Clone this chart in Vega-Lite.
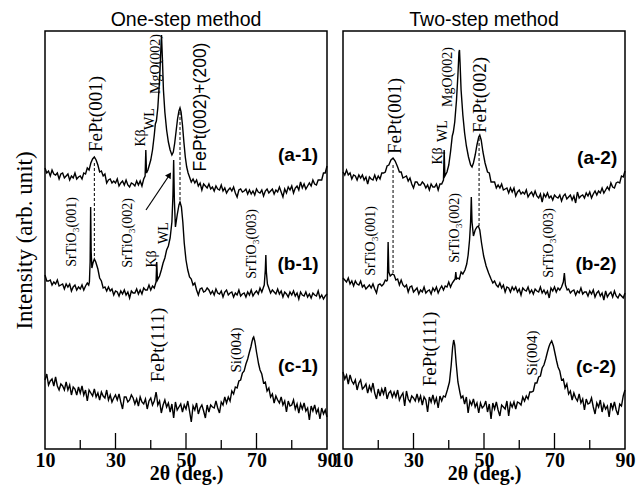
{
"$schema": "https://vega.github.io/schema/vega-lite/v6.json",
"background": "white",
"padding": {"left": 12, "top": 8, "right": 5, "bottom": 2},
"bounds": "flush",
"spacing": 16,
"config": {
  "view": {"stroke": "black", "strokeWidth": 1.5},
  "axis": {"grid": false},
  "title": {"font": "Liberation Sans", "fontSize": 19.5, "fontWeight": "normal", "color": "black", "offset": 1}
},
"datasets": {
"a1": [{"x":10,"y":281},{"x":10.5,"y":276},{"x":11,"y":278},{"x":11.5,"y":273},{"x":12,"y":279},{"x":12.5,"y":275},{"x":13,"y":274},{"x":13.5,"y":276},{"x":14,"y":270},{"x":14.5,"y":275},{"x":15,"y":276},{"x":15.5,"y":271},{"x":16,"y":273},{"x":16.5,"y":275},{"x":17,"y":269},{"x":17.5,"y":273},{"x":18,"y":271},{"x":18.5,"y":276},{"x":19,"y":270},{"x":19.5,"y":272},{"x":20,"y":273},{"x":20.5,"y":270},{"x":21,"y":276},{"x":21.5,"y":275},{"x":22,"y":281},{"x":22.5,"y":279},{"x":23,"y":286},{"x":23.5,"y":290},{"x":24,"y":292},{"x":24.5,"y":289},{"x":25,"y":284},{"x":25.5,"y":277},{"x":26,"y":278},{"x":26.5,"y":273},{"x":27,"y":275},{"x":27.5,"y":266},{"x":28,"y":269},{"x":28.5,"y":270},{"x":29,"y":266},{"x":29.5,"y":268},{"x":30,"y":266},{"x":30.5,"y":270},{"x":31,"y":263},{"x":31.5,"y":266},{"x":32,"y":268},{"x":32.5,"y":264},{"x":33,"y":269},{"x":33.5,"y":264},{"x":34,"y":262},{"x":34.5,"y":266},{"x":35,"y":265},{"x":35.5,"y":263},{"x":36,"y":268},{"x":36.5,"y":264},{"x":37,"y":268},{"x":37.5,"y":263},{"x":38,"y":270},{"x":38.4,"y":273},{"x":38.6,"y":299},{"x":38.8,"y":276},{"x":39.2,"y":279},{"x":39.6,"y":284},{"x":40,"y":289},{"x":40.5,"y":299},{"x":41,"y":314},{"x":41.3,"y":325},{"x":41.6,"y":328},{"x":42,"y":341},{"x":42.5,"y":369},{"x":42.8,"y":394},{"x":43.05,"y":414},{"x":43.3,"y":391},{"x":43.6,"y":359},{"x":44,"y":337},{"x":44.5,"y":319},{"x":45,"y":307},{"x":45.5,"y":299},{"x":46,"y":294},{"x":46.4,"y":297},{"x":46.8,"y":306},{"x":47.2,"y":318},{"x":47.6,"y":330},{"x":48,"y":338},{"x":48.3,"y":341},{"x":48.6,"y":337},{"x":49,"y":324},{"x":49.4,"y":307},{"x":49.8,"y":292},{"x":50.2,"y":282},{"x":50.6,"y":276},{"x":51,"y":272},{"x":51.5,"y":267},{"x":52,"y":270},{"x":52.5,"y":266},{"x":53,"y":269},{"x":53.5,"y":263},{"x":54,"y":266},{"x":54.5,"y":259},{"x":55,"y":265},{"x":55.5,"y":263},{"x":56,"y":261},{"x":56.5,"y":265},{"x":57,"y":260},{"x":57.5,"y":262},{"x":58,"y":258},{"x":58.5,"y":263},{"x":59,"y":260},{"x":59.5,"y":259},{"x":60,"y":264},{"x":60.5,"y":258},{"x":61,"y":261},{"x":61.5,"y":256},{"x":62,"y":259},{"x":62.5,"y":261},{"x":63,"y":258},{"x":63.5,"y":262},{"x":64,"y":256},{"x":64.5,"y":252},{"x":65,"y":259},{"x":65.5,"y":260},{"x":66,"y":257},{"x":66.5,"y":258},{"x":67,"y":260},{"x":67.5,"y":255},{"x":68,"y":259},{"x":68.5,"y":255},{"x":69,"y":258},{"x":69.5,"y":254},{"x":70,"y":260},{"x":70.5,"y":257},{"x":71,"y":256},{"x":71.5,"y":259},{"x":72,"y":253},{"x":72.5,"y":258},{"x":73,"y":260},{"x":73.5,"y":256},{"x":74,"y":258},{"x":74.5,"y":260},{"x":75,"y":255},{"x":75.5,"y":259},{"x":76,"y":257},{"x":76.5,"y":262},{"x":77,"y":257},{"x":77.5,"y":252},{"x":78,"y":260},{"x":78.5,"y":256},{"x":79,"y":262},{"x":79.5,"y":259},{"x":80,"y":263},{"x":80.5,"y":256},{"x":81,"y":261},{"x":81.5,"y":263},{"x":82,"y":259},{"x":82.5,"y":267},{"x":83,"y":261},{"x":83.5,"y":265},{"x":84,"y":260},{"x":84.5,"y":263},{"x":85,"y":266},{"x":85.5,"y":263},{"x":86,"y":269},{"x":86.5,"y":265},{"x":87,"y":264},{"x":87.5,"y":269},{"x":88,"y":269},{"x":88.5,"y":269},{"x":89,"y":276},{"x":89.5,"y":276},{"x":90,"y":283}],
"b1": [{"x":10,"y":174},{"x":10.5,"y":168},{"x":11,"y":168},{"x":11.5,"y":169},{"x":12,"y":164},{"x":12.5,"y":167},{"x":13,"y":165},{"x":13.5,"y":169},{"x":14,"y":163},{"x":14.5,"y":164},{"x":15,"y":165},{"x":15.5,"y":160},{"x":16,"y":165},{"x":16.5,"y":162},{"x":17,"y":165},{"x":17.5,"y":158},{"x":18,"y":162},{"x":18.5,"y":164},{"x":19,"y":159},{"x":19.5,"y":162},{"x":20,"y":160},{"x":20.5,"y":164},{"x":21,"y":159},{"x":21.5,"y":163},{"x":22,"y":166},{"x":22.4,"y":164},{"x":22.6,"y":167},{"x":22.8,"y":187},{"x":22.95,"y":242},{"x":23.1,"y":197},{"x":23.3,"y":181},{"x":23.6,"y":186},{"x":24,"y":190},{"x":24.4,"y":187},{"x":25,"y":180},{"x":25.5,"y":171},{"x":26,"y":168},{"x":26.5,"y":161},{"x":27,"y":162},{"x":27.5,"y":158},{"x":28,"y":162},{"x":28.5,"y":158},{"x":29,"y":160},{"x":29.5,"y":154},{"x":30,"y":158},{"x":30.5,"y":157},{"x":31,"y":153},{"x":31.5,"y":158},{"x":32,"y":155},{"x":32.5,"y":159},{"x":33,"y":154},{"x":33.5,"y":157},{"x":34,"y":151},{"x":34.5,"y":158},{"x":35,"y":156},{"x":35.5,"y":156},{"x":36,"y":160},{"x":36.5,"y":155},{"x":37,"y":159},{"x":37.5,"y":155},{"x":38,"y":161},{"x":38.5,"y":159},{"x":39,"y":159},{"x":39.5,"y":164},{"x":40,"y":159},{"x":40.5,"y":163},{"x":41,"y":161},{"x":41.5,"y":167},{"x":41.7,"y":187},{"x":41.9,"y":169},{"x":42.5,"y":173},{"x":43,"y":179},{"x":43.5,"y":186},{"x":44,"y":191},{"x":44.5,"y":199},{"x":45,"y":203},{"x":45.5,"y":211},{"x":46,"y":227},{"x":46.3,"y":254},{"x":46.5,"y":289},{"x":46.7,"y":249},{"x":47,"y":222},{"x":47.5,"y":234},{"x":48,"y":244},{"x":48.3,"y":247},{"x":48.7,"y":242},{"x":49.1,"y":227},{"x":49.5,"y":206},{"x":50,"y":189},{"x":50.5,"y":179},{"x":51,"y":172},{"x":51.5,"y":170},{"x":52,"y":164},{"x":52.5,"y":166},{"x":53,"y":159},{"x":53.5,"y":154},{"x":54,"y":160},{"x":54.5,"y":161},{"x":55,"y":157},{"x":55.5,"y":158},{"x":56,"y":161},{"x":56.5,"y":159},{"x":57,"y":155},{"x":57.5,"y":158},{"x":58,"y":154},{"x":58.5,"y":160},{"x":59,"y":156},{"x":59.5,"y":155},{"x":60,"y":158},{"x":60.5,"y":152},{"x":61,"y":157},{"x":61.5,"y":159},{"x":62,"y":154},{"x":62.5,"y":156},{"x":63,"y":157},{"x":63.5,"y":152},{"x":64,"y":156},{"x":64.5,"y":154},{"x":65,"y":159},{"x":65.5,"y":153},{"x":66,"y":155},{"x":66.5,"y":156},{"x":67,"y":152},{"x":67.5,"y":157},{"x":68,"y":154},{"x":68.5,"y":159},{"x":69,"y":153},{"x":69.5,"y":156},{"x":70,"y":158},{"x":70.5,"y":155},{"x":71,"y":161},{"x":71.5,"y":157},{"x":72,"y":162},{"x":72.2,"y":164},{"x":72.5,"y":179},{"x":72.65,"y":194},{"x":72.8,"y":177},{"x":73.1,"y":165},{"x":73.6,"y":160},{"x":74,"y":156},{"x":74.5,"y":159},{"x":75,"y":157},{"x":75.5,"y":155},{"x":76,"y":160},{"x":76.5,"y":155},{"x":77,"y":158},{"x":77.5,"y":152},{"x":78,"y":157},{"x":78.5,"y":155},{"x":79,"y":152},{"x":79.5,"y":157},{"x":80,"y":154},{"x":80.5,"y":158},{"x":81,"y":153},{"x":81.5,"y":156},{"x":82,"y":150},{"x":82.5,"y":157},{"x":83,"y":154},{"x":83.5,"y":153},{"x":84,"y":157},{"x":84.5,"y":152},{"x":85,"y":155},{"x":85.5,"y":151},{"x":86,"y":156},{"x":86.5,"y":154},{"x":87,"y":153},{"x":87.5,"y":158},{"x":88,"y":151},{"x":88.5,"y":154},{"x":89,"y":150},{"x":89.5,"y":153},{"x":90,"y":155}],
"c1": [{"x":10,"y":69},{"x":10.5,"y":75},{"x":11,"y":64},{"x":11.5,"y":68},{"x":12,"y":70},{"x":12.5,"y":63},{"x":13,"y":72},{"x":13.5,"y":63},{"x":14,"y":59},{"x":14.5,"y":65},{"x":15,"y":63},{"x":15.5,"y":59},{"x":16,"y":67},{"x":16.5,"y":59},{"x":17,"y":64},{"x":17.5,"y":54},{"x":18,"y":62},{"x":18.5,"y":60},{"x":19,"y":54},{"x":19.5,"y":62},{"x":20,"y":56},{"x":20.5,"y":63},{"x":21,"y":54},{"x":21.5,"y":59},{"x":22,"y":48},{"x":22.5,"y":59},{"x":23,"y":56},{"x":23.5,"y":53},{"x":24,"y":60},{"x":24.5,"y":52},{"x":25,"y":56},{"x":25.5,"y":49},{"x":26,"y":57},{"x":26.5,"y":53},{"x":27,"y":51},{"x":27.5,"y":59},{"x":28,"y":49},{"x":28.5,"y":54},{"x":29,"y":47},{"x":29.5,"y":51},{"x":30,"y":54},{"x":30.5,"y":49},{"x":31,"y":55},{"x":31.5,"y":47},{"x":32,"y":40},{"x":32.5,"y":52},{"x":33,"y":52},{"x":33.5,"y":47},{"x":34,"y":49},{"x":34.5,"y":54},{"x":35,"y":51},{"x":35.5,"y":45},{"x":36,"y":50},{"x":36.5,"y":43},{"x":37,"y":52},{"x":37.5,"y":47},{"x":38,"y":45},{"x":38.5,"y":50},{"x":39,"y":40},{"x":39.5,"y":48},{"x":40,"y":51},{"x":40.5,"y":44},{"x":41,"y":48},{"x":41.3,"y":53},{"x":41.5,"y":57},{"x":41.7,"y":53},{"x":42,"y":44},{"x":42.5,"y":48},{"x":43,"y":36},{"x":43.5,"y":44},{"x":44,"y":49},{"x":44.5,"y":42},{"x":45,"y":46},{"x":45.5,"y":37},{"x":46,"y":45},{"x":46.5,"y":31},{"x":47,"y":47},{"x":47.5,"y":39},{"x":48,"y":42},{"x":48.5,"y":45},{"x":49,"y":37},{"x":49.5,"y":44},{"x":50,"y":40},{"x":50.5,"y":48},{"x":51,"y":38},{"x":51.5,"y":27},{"x":52,"y":43},{"x":52.5,"y":39},{"x":53,"y":46},{"x":53.5,"y":35},{"x":54,"y":41},{"x":54.5,"y":44},{"x":55,"y":38},{"x":55.5,"y":31},{"x":56,"y":44},{"x":56.5,"y":37},{"x":57,"y":44},{"x":57.5,"y":42},{"x":58,"y":41},{"x":58.5,"y":48},{"x":59,"y":41},{"x":59.5,"y":36},{"x":60,"y":47},{"x":60.5,"y":44},{"x":61,"y":52},{"x":61.5,"y":46},{"x":62,"y":52},{"x":62.5,"y":48},{"x":63,"y":58},{"x":63.5,"y":55},{"x":64,"y":62},{"x":64.5,"y":61},{"x":65,"y":68},{"x":65.5,"y":69},{"x":66,"y":76},{"x":66.5,"y":78},{"x":67,"y":85},{"x":67.5,"y":90},{"x":68,"y":97},{"x":68.4,"y":102},{"x":68.7,"y":107},{"x":69,"y":111},{"x":69.2,"y":112},{"x":69.5,"y":108},{"x":69.7,"y":104},{"x":70,"y":97},{"x":70.3,"y":91},{"x":70.6,"y":85},{"x":71,"y":79},{"x":71.5,"y":75},{"x":72,"y":66},{"x":72.5,"y":67},{"x":73,"y":58},{"x":73.5,"y":61},{"x":74,"y":52},{"x":74.5,"y":55},{"x":75,"y":46},{"x":75.5,"y":53},{"x":76,"y":49},{"x":76.5,"y":46},{"x":77,"y":52},{"x":77.5,"y":44},{"x":78,"y":48},{"x":78.5,"y":37},{"x":79,"y":48},{"x":79.5,"y":43},{"x":80,"y":44},{"x":80.5,"y":49},{"x":81,"y":40},{"x":81.5,"y":45},{"x":82,"y":36},{"x":82.5,"y":45},{"x":83,"y":40},{"x":83.5,"y":46},{"x":84,"y":38},{"x":84.5,"y":41},{"x":85,"y":29},{"x":85.5,"y":43},{"x":86,"y":38},{"x":86.5,"y":44},{"x":87,"y":36},{"x":87.5,"y":40},{"x":88,"y":30},{"x":88.5,"y":41},{"x":89,"y":35},{"x":89.5,"y":39},{"x":90,"y":32}],
"a2": [{"x":10,"y":277},{"x":10.5,"y":274},{"x":11,"y":279},{"x":11.5,"y":274},{"x":12,"y":276},{"x":12.5,"y":270},{"x":13,"y":274},{"x":13.5,"y":273},{"x":14,"y":269},{"x":14.5,"y":274},{"x":15,"y":271},{"x":15.5,"y":274},{"x":16,"y":269},{"x":16.5,"y":272},{"x":17,"y":265},{"x":17.5,"y":272},{"x":18,"y":270},{"x":18.5,"y":269},{"x":19,"y":274},{"x":19.5,"y":269},{"x":20,"y":273},{"x":20.5,"y":270},{"x":21,"y":276},{"x":21.5,"y":276},{"x":22,"y":277},{"x":22.5,"y":283},{"x":23,"y":284},{"x":23.6,"y":289},{"x":24.2,"y":291},{"x":24.8,"y":288},{"x":25.5,"y":282},{"x":26,"y":277},{"x":26.5,"y":277},{"x":27,"y":271},{"x":27.5,"y":272},{"x":28,"y":273},{"x":28.5,"y":268},{"x":29,"y":271},{"x":29.5,"y":265},{"x":30,"y":261},{"x":30.5,"y":267},{"x":31,"y":267},{"x":31.5,"y":264},{"x":32,"y":264},{"x":32.5,"y":267},{"x":33,"y":265},{"x":33.5,"y":261},{"x":34,"y":264},{"x":34.5,"y":259},{"x":35,"y":265},{"x":35.5,"y":262},{"x":36,"y":262},{"x":36.5,"y":265},{"x":37,"y":259},{"x":37.5,"y":265},{"x":38,"y":265},{"x":38.5,"y":269},{"x":38.7,"y":299},{"x":38.9,"y":273},{"x":39.5,"y":277},{"x":40,"y":284},{"x":40.5,"y":297},{"x":41,"y":313},{"x":41.3,"y":317},{"x":41.7,"y":327},{"x":42.2,"y":349},{"x":42.6,"y":374},{"x":42.9,"y":397},{"x":43.05,"y":399},{"x":43.2,"y":387},{"x":43.5,"y":359},{"x":44,"y":334},{"x":44.5,"y":316},{"x":45,"y":303},{"x":45.6,"y":292},{"x":46.2,"y":284},{"x":46.6,"y":282},{"x":47,"y":286},{"x":47.5,"y":294},{"x":48,"y":304},{"x":48.5,"y":312},{"x":48.8,"y":314},{"x":49.2,"y":309},{"x":49.7,"y":297},{"x":50.3,"y":286},{"x":51,"y":277},{"x":51.5,"y":276},{"x":52,"y":267},{"x":52.5,"y":267},{"x":53,"y":267},{"x":53.5,"y":261},{"x":54,"y":264},{"x":54.5,"y":261},{"x":55,"y":265},{"x":55.5,"y":259},{"x":56,"y":260},{"x":56.5,"y":261},{"x":57,"y":256},{"x":57.5,"y":261},{"x":58,"y":257},{"x":58.5,"y":261},{"x":59,"y":253},{"x":59.5,"y":257},{"x":60,"y":259},{"x":60.5,"y":255},{"x":61,"y":257},{"x":61.5,"y":255},{"x":62,"y":259},{"x":62.5,"y":252},{"x":63,"y":255},{"x":63.5,"y":257},{"x":64,"y":253},{"x":64.5,"y":258},{"x":65,"y":253},{"x":65.5,"y":251},{"x":66,"y":255},{"x":66.5,"y":247},{"x":67,"y":255},{"x":67.5,"y":252},{"x":68,"y":256},{"x":68.5,"y":251},{"x":69,"y":253},{"x":69.5,"y":249},{"x":70,"y":254},{"x":70.5,"y":252},{"x":71,"y":251},{"x":71.5,"y":254},{"x":72,"y":248},{"x":72.5,"y":253},{"x":73,"y":255},{"x":73.5,"y":250},{"x":74,"y":252},{"x":74.5,"y":254},{"x":75,"y":249},{"x":75.5,"y":253},{"x":76,"y":246},{"x":76.5,"y":257},{"x":77,"y":251},{"x":77.5,"y":253},{"x":78,"y":254},{"x":78.5,"y":251},{"x":79,"y":256},{"x":79.5,"y":253},{"x":80,"y":257},{"x":80.5,"y":251},{"x":81,"y":255},{"x":81.5,"y":258},{"x":82,"y":254},{"x":82.5,"y":258},{"x":83,"y":256},{"x":83.5,"y":261},{"x":84,"y":256},{"x":84.5,"y":259},{"x":85,"y":262},{"x":85.5,"y":259},{"x":86,"y":266},{"x":86.5,"y":262},{"x":87,"y":261},{"x":87.5,"y":266},{"x":88,"y":267},{"x":88.5,"y":266},{"x":89,"y":273},{"x":89.5,"y":272},{"x":90,"y":278}],
"b2": [{"x":10,"y":171},{"x":10.5,"y":169},{"x":11,"y":167},{"x":11.5,"y":171},{"x":12,"y":165},{"x":12.5,"y":168},{"x":13,"y":163},{"x":13.5,"y":168},{"x":14,"y":165},{"x":14.5,"y":164},{"x":15,"y":168},{"x":15.5,"y":162},{"x":16,"y":164},{"x":16.5,"y":160},{"x":17,"y":162},{"x":17.5,"y":164},{"x":18,"y":161},{"x":18.5,"y":165},{"x":19,"y":160},{"x":19.5,"y":156},{"x":20,"y":164},{"x":20.5,"y":165},{"x":21,"y":163},{"x":21.5,"y":165},{"x":22,"y":169},{"x":22.4,"y":168},{"x":22.6,"y":169},{"x":22.8,"y":207},{"x":23,"y":177},{"x":23.4,"y":173},{"x":24,"y":175},{"x":24.5,"y":174},{"x":25,"y":169},{"x":25.5,"y":170},{"x":26,"y":164},{"x":26.5,"y":169},{"x":27,"y":164},{"x":27.5,"y":162},{"x":28,"y":164},{"x":28.5,"y":157},{"x":29,"y":162},{"x":29.5,"y":163},{"x":30,"y":157},{"x":30.5,"y":159},{"x":31,"y":161},{"x":31.5,"y":155},{"x":32,"y":159},{"x":32.5,"y":157},{"x":33,"y":162},{"x":33.5,"y":156},{"x":34,"y":158},{"x":34.5,"y":159},{"x":35,"y":155},{"x":35.5,"y":161},{"x":36,"y":158},{"x":36.5,"y":162},{"x":37,"y":156},{"x":37.5,"y":160},{"x":38,"y":163},{"x":38.5,"y":159},{"x":39,"y":163},{"x":39.5,"y":162},{"x":40,"y":167},{"x":40.5,"y":162},{"x":41,"y":166},{"x":41.4,"y":168},{"x":41.8,"y":170},{"x":42,"y":177},{"x":42.2,"y":170},{"x":42.6,"y":171},{"x":43,"y":170},{"x":43.5,"y":177},{"x":44,"y":175},{"x":44.6,"y":179},{"x":45.1,"y":185},{"x":45.5,"y":194},{"x":45.9,"y":209},{"x":46.2,"y":227},{"x":46.4,"y":252},{"x":46.6,"y":227},{"x":47,"y":213},{"x":47.5,"y":219},{"x":48,"y":222},{"x":48.4,"y":223},{"x":48.8,"y":219},{"x":49.3,"y":206},{"x":49.9,"y":193},{"x":50.6,"y":183},{"x":51.3,"y":176},{"x":52,"y":170},{"x":52.5,"y":166},{"x":53,"y":168},{"x":53.5,"y":164},{"x":54,"y":162},{"x":54.5,"y":166},{"x":55,"y":161},{"x":55.5,"y":164},{"x":56,"y":157},{"x":56.5,"y":162},{"x":57,"y":161},{"x":57.5,"y":157},{"x":58,"y":162},{"x":58.5,"y":159},{"x":59,"y":162},{"x":59.5,"y":157},{"x":60,"y":160},{"x":60.5,"y":154},{"x":61,"y":161},{"x":61.5,"y":159},{"x":62,"y":158},{"x":62.5,"y":162},{"x":63,"y":156},{"x":63.5,"y":159},{"x":64,"y":155},{"x":64.5,"y":160},{"x":65,"y":158},{"x":65.5,"y":157},{"x":66,"y":162},{"x":66.5,"y":156},{"x":67,"y":159},{"x":67.5,"y":155},{"x":68,"y":158},{"x":68.5,"y":151},{"x":69,"y":161},{"x":69.5,"y":158},{"x":70,"y":162},{"x":70.5,"y":157},{"x":71,"y":161},{"x":71.5,"y":159},{"x":72,"y":162},{"x":72.5,"y":167},{"x":72.8,"y":176},{"x":73.1,"y":164},{"x":73.6,"y":159},{"x":74,"y":160},{"x":74.5,"y":156},{"x":75,"y":158},{"x":75.5,"y":159},{"x":76,"y":154},{"x":76.5,"y":158},{"x":77,"y":156},{"x":77.5,"y":161},{"x":78,"y":155},{"x":78.5,"y":157},{"x":79,"y":157},{"x":79.5,"y":153},{"x":80,"y":158},{"x":80.5,"y":155},{"x":81,"y":159},{"x":81.5,"y":152},{"x":82,"y":156},{"x":82.5,"y":158},{"x":83,"y":153},{"x":83.5,"y":156},{"x":84,"y":149},{"x":84.5,"y":158},{"x":85,"y":152},{"x":85.5,"y":155},{"x":86,"y":157},{"x":86.5,"y":152},{"x":87,"y":158},{"x":87.5,"y":153},{"x":88,"y":151},{"x":88.5,"y":155},{"x":89,"y":153},{"x":89.5,"y":151},{"x":90,"y":156}],
"c2": [{"x":10,"y":77},{"x":10.5,"y":70},{"x":11,"y":74},{"x":11.5,"y":65},{"x":12,"y":74},{"x":12.5,"y":68},{"x":13,"y":65},{"x":13.5,"y":69},{"x":14,"y":59},{"x":14.5,"y":66},{"x":15,"y":69},{"x":15.5,"y":60},{"x":16,"y":62},{"x":16.5,"y":65},{"x":17,"y":56},{"x":17.5,"y":63},{"x":18,"y":58},{"x":18.5,"y":66},{"x":19,"y":56},{"x":19.5,"y":50},{"x":20,"y":60},{"x":20.5,"y":53},{"x":21,"y":60},{"x":21.5,"y":55},{"x":22,"y":62},{"x":22.5,"y":50},{"x":23,"y":56},{"x":23.5,"y":58},{"x":24,"y":52},{"x":24.5,"y":57},{"x":25,"y":52},{"x":25.5,"y":59},{"x":26,"y":49},{"x":26.5,"y":53},{"x":27,"y":56},{"x":27.5,"y":43},{"x":28,"y":58},{"x":28.5,"y":50},{"x":29,"y":47},{"x":29.5,"y":53},{"x":30,"y":51},{"x":30.5,"y":48},{"x":31,"y":55},{"x":31.5,"y":48},{"x":32,"y":53},{"x":32.5,"y":44},{"x":33,"y":52},{"x":33.5,"y":49},{"x":34,"y":37},{"x":34.5,"y":52},{"x":35,"y":47},{"x":35.5,"y":54},{"x":36,"y":46},{"x":36.5,"y":51},{"x":37,"y":41},{"x":37.5,"y":53},{"x":38,"y":48},{"x":38.5,"y":53},{"x":39,"y":52},{"x":39.6,"y":59},{"x":40.2,"y":67},{"x":40.7,"y":84},{"x":41.1,"y":102},{"x":41.4,"y":109},{"x":41.7,"y":104},{"x":42.1,"y":86},{"x":42.6,"y":67},{"x":43.2,"y":56},{"x":43.5,"y":51},{"x":44,"y":53},{"x":44.5,"y":45},{"x":45,"y":52},{"x":45.5,"y":36},{"x":46,"y":48},{"x":46.5,"y":44},{"x":47,"y":50},{"x":47.5,"y":42},{"x":48,"y":46},{"x":48.5,"y":36},{"x":49,"y":46},{"x":49.5,"y":41},{"x":50,"y":43},{"x":50.5,"y":48},{"x":51,"y":37},{"x":51.5,"y":45},{"x":52,"y":30},{"x":52.5,"y":46},{"x":53,"y":40},{"x":53.5,"y":47},{"x":54,"y":39},{"x":54.5,"y":33},{"x":55,"y":44},{"x":55.5,"y":42},{"x":56,"y":40},{"x":56.5,"y":48},{"x":57,"y":33},{"x":57.5,"y":46},{"x":58,"y":42},{"x":58.5,"y":47},{"x":59,"y":40},{"x":59.5,"y":47},{"x":60,"y":46},{"x":60.5,"y":44},{"x":61,"y":52},{"x":61.5,"y":48},{"x":62,"y":53},{"x":62.5,"y":50},{"x":63,"y":57},{"x":63.5,"y":57},{"x":64,"y":58},{"x":64.5,"y":66},{"x":65,"y":66},{"x":65.5,"y":72},{"x":66,"y":73},{"x":66.5,"y":81},{"x":67,"y":84},{"x":67.5,"y":90},{"x":68,"y":97},{"x":68.4,"y":102},{"x":68.7,"y":105},{"x":69.2,"y":108},{"x":69.7,"y":103},{"x":70,"y":98},{"x":70.3,"y":93},{"x":70.6,"y":88},{"x":71,"y":82},{"x":71.5,"y":78},{"x":72,"y":69},{"x":72.5,"y":70},{"x":73,"y":61},{"x":73.5,"y":65},{"x":74,"y":55},{"x":74.5,"y":58},{"x":75,"y":49},{"x":75.5,"y":56},{"x":76,"y":51},{"x":76.5,"y":48},{"x":77,"y":55},{"x":77.5,"y":46},{"x":78,"y":50},{"x":78.5,"y":39},{"x":79,"y":50},{"x":79.5,"y":45},{"x":80,"y":46},{"x":80.5,"y":51},{"x":81,"y":42},{"x":81.5,"y":35},{"x":82,"y":46},{"x":82.5,"y":42},{"x":83,"y":49},{"x":83.5,"y":37},{"x":84,"y":45},{"x":84.5,"y":40},{"x":85,"y":43},{"x":85.5,"y":32},{"x":86,"y":46},{"x":86.5,"y":40},{"x":87,"y":47},{"x":87.5,"y":39},{"x":88,"y":34},{"x":88.5,"y":45},{"x":89,"y":43},{"x":89.5,"y":53},{"x":90,"y":59}],
"lab1": [{"k":"fp","x":24.6,"y":335,"t":"FePt(001)"},{"k":"sm","x":37.2,"y":311,"t":"Kβ"},{"k":"sm","x":39.8,"y":330,"t":"WL"},{"k":"sm","x":41.5,"y":385,"t":"MgO(002)"},{"k":"sans","x":54.3,"y":342,"t":"FePt(002)+(200)"},{"k":"id","x":81.8,"y":294,"t":"(a-1)"},{"k":"sm","x":17.7,"y":217,"t":"SrTiO₃(001)"},{"k":"sm","x":33.5,"y":216,"t":"SrTiO₃(002)"},{"k":"sm","x":40.4,"y":190,"t":"Kβ"},{"k":"sm","x":43.8,"y":216,"t":"WL"},{"k":"sm","x":68.7,"y":205,"t":"SrTiO₃(003)"},{"k":"id","x":81.8,"y":185,"t":"(b-1)"},{"k":"fp","x":42.1,"y":104,"t":"FePt(111)"},{"k":"si","x":64.2,"y":99,"t":"Si(004)"},{"k":"id","x":81.8,"y":83,"t":"(c-1)"}],
"lab2": [{"k":"fp","x":24.75,"y":333,"t":"FePt(001)"},{"k":"sm","x":36.95,"y":293,"t":"Kβ"},{"k":"sm","x":38.4,"y":318,"t":"WL"},{"k":"sm","x":39.8,"y":372,"t":"MgO(002)"},{"k":"fp","x":48.9,"y":354,"t":"FePt(002)"},{"k":"id","x":82.1,"y":291,"t":"(a-2)"},{"k":"sm","x":17.9,"y":208,"t":"SrTiO₃(001)"},{"k":"sm","x":41.8,"y":221,"t":"SrTiO₃(002)"},{"k":"sm","x":68.4,"y":206,"t":"SrTiO₃(003)"},{"k":"id","x":81.8,"y":185,"t":"(b-2)"},{"k":"fp","x":34.7,"y":100,"t":"FePt(111)"},{"k":"si","x":63.6,"y":96,"t":"Si(004)"},{"k":"id","x":81.8,"y":82,"t":"(c-2)"}],
"dash1": [{"x":24,"y":286,"y2":191},{"x":48.3,"y":337,"y2":246}],
"dash2": [{"x":24.2,"y":284,"y2":176},{"x":48.6,"y":311,"y2":223}],
"arrow1": [{"x":38.65,"y":239,"x2":45.3,"y2":274}],
"tickpos": [{"x":20,"k":"mi"},{"x":30,"k":"ma"},{"x":40,"k":"mi"},{"x":50,"k":"ma"},{"x":60,"k":"mi"},{"x":70,"k":"ma"},{"x":80,"k":"mi"}]
},
"hconcat": [
{
  "title": "One-step method",
  "width": 282,
  "height": 418,
  "encoding": {
    "x": {"field": "x", "type": "quantitative",
      "scale": {"domain": [10, 90], "nice": false, "zero": false},
      "axis": {"title": "2θ (deg.)", "values": [10,30,50,70,90],
        "ticks": false, "domain": false, "labelFlush": false, "labelPadding": 1,
        "labelFont": "Liberation Serif", "labelFontSize": 20, "labelFontWeight": "bold", "labelColor": "black",
        "titleFont": "Liberation Serif", "titleFontSize": 20, "titleFontWeight": "bold", "titleColor": "black", "titlePadding": -7}}
  },
  "layer": [
    {"data": {"name": "a1"}, "mark": {"type": "line", "color": "black", "strokeWidth": 1.4},
     "encoding": {"y": {"field": "y", "type": "quantitative",
      "scale": {"domain": [0, 418], "nice": false, "zero": false},
      "axis": {"title": "Intensity (arb. unit)", "labels": false, "ticks": false, "domain": false,
        "titleFont": "Liberation Serif", "titleFontSize": 23, "titleFontWeight": "normal", "titleColor": "black", "titlePadding": 9}}}},
    {"data": {"name": "b1"}, "mark": {"type": "line", "color": "black", "strokeWidth": 1.4}, "encoding": {"y": {"field": "y", "type": "quantitative"}}},
    {"data": {"name": "c1"}, "mark": {"type": "line", "color": "black", "strokeWidth": 1.4}, "encoding": {"y": {"field": "y", "type": "quantitative"}}},
    {"data": {"name": "tickpos"}, "transform": [{"filter": "datum.k == 'ma'"}], "mark": {"type": "rule", "color": "black", "strokeWidth": 1.3}, "encoding": {"y": {"datum": 0, "type": "quantitative"}, "y2": {"datum": 16}}},
    {"data": {"name": "tickpos"}, "transform": [{"filter": "datum.k == 'mi'"}], "mark": {"type": "rule", "color": "black", "strokeWidth": 1.3}, "encoding": {"y": {"datum": 0, "type": "quantitative"}, "y2": {"datum": 9}}},
    {"data": {"name": "dash1"}, "mark": {"type": "rule", "color": "black", "strokeWidth": 1, "strokeDash": [3, 2]}, "encoding": {"y": {"field": "y", "type": "quantitative"}, "y2": {"field": "y2"}}},
    {"data": {"name": "arrow1"}, "mark": {"type": "rule", "color": "black", "strokeWidth": 1.2}, "encoding": {"y": {"field": "y", "type": "quantitative"}, "x2": {"field": "x2"}, "y2": {"field": "y2"}}},
    {"data": {"name": "arrow1"}, "mark": {"type": "point", "shape": "triangle-up", "filled": true, "color": "black", "size": 45, "angle": 33, "opacity": 1}, "encoding": {"x": {"field": "x2", "type": "quantitative"}, "y": {"field": "y2", "type": "quantitative"}}},
    {"data": {"name": "lab1"}, "transform": [{"filter": "datum.k == 'fp'"}], "mark": {"type": "text", "font": "Liberation Serif", "fontSize": 19, "angle": 270, "align": "center", "baseline": "middle", "color": "black"}, "encoding": {"y": {"field": "y", "type": "quantitative"}, "text": {"field": "t"}}},
    {"data": {"name": "lab1"}, "transform": [{"filter": "datum.k == 'sm'"}], "mark": {"type": "text", "font": "Liberation Serif", "fontSize": 14, "angle": 270, "align": "center", "baseline": "middle", "color": "black"}, "encoding": {"y": {"field": "y", "type": "quantitative"}, "text": {"field": "t"}}},
    {"data": {"name": "lab1"}, "transform": [{"filter": "datum.k == 'si'"}], "mark": {"type": "text", "font": "Liberation Serif", "fontSize": 15, "angle": 270, "align": "center", "baseline": "middle", "color": "black"}, "encoding": {"y": {"field": "y", "type": "quantitative"}, "text": {"field": "t"}}},
    {"data": {"name": "lab1"}, "transform": [{"filter": "datum.k == 'sans'"}], "mark": {"type": "text", "font": "Liberation Sans", "fontSize": 17.5, "angle": 270, "align": "center", "baseline": "middle", "color": "black"}, "encoding": {"y": {"field": "y", "type": "quantitative"}, "text": {"field": "t"}}},
    {"data": {"name": "lab1"}, "transform": [{"filter": "datum.k == 'id'"}], "mark": {"type": "text", "font": "Liberation Sans", "fontSize": 19, "fontWeight": "bold", "align": "center", "baseline": "middle", "color": "black"}, "encoding": {"y": {"field": "y", "type": "quantitative"}, "text": {"field": "t"}}}
  ]
},
{
  "title": "Two-step method",
  "width": 282,
  "height": 418,
  "encoding": {
    "x": {"field": "x", "type": "quantitative",
      "scale": {"domain": [10, 90], "nice": false, "zero": false},
      "axis": {"title": "2θ (deg.)", "values": [10,30,50,70,90],
        "ticks": false, "domain": false, "labelFlush": false, "labelPadding": 1,
        "labelFont": "Liberation Serif", "labelFontSize": 20, "labelFontWeight": "bold", "labelColor": "black",
        "titleFont": "Liberation Serif", "titleFontSize": 20, "titleFontWeight": "bold", "titleColor": "black", "titlePadding": -7}}
  },
  "layer": [
    {"data": {"name": "a2"}, "mark": {"type": "line", "color": "black", "strokeWidth": 1.4}, "encoding": {"y": {"field": "y", "type": "quantitative", "scale": {"domain": [0, 418], "nice": false, "zero": false}, "axis": null}}},
    {"data": {"name": "b2"}, "mark": {"type": "line", "color": "black", "strokeWidth": 1.4}, "encoding": {"y": {"field": "y", "type": "quantitative", "axis": null}}},
    {"data": {"name": "c2"}, "mark": {"type": "line", "color": "black", "strokeWidth": 1.4}, "encoding": {"y": {"field": "y", "type": "quantitative", "axis": null}}},
    {"data": {"name": "tickpos"}, "transform": [{"filter": "datum.k == 'ma'"}], "mark": {"type": "rule", "color": "black", "strokeWidth": 1.3}, "encoding": {"y": {"datum": 0, "type": "quantitative", "axis": null}, "y2": {"datum": 16}}},
    {"data": {"name": "tickpos"}, "transform": [{"filter": "datum.k == 'mi'"}], "mark": {"type": "rule", "color": "black", "strokeWidth": 1.3}, "encoding": {"y": {"datum": 0, "type": "quantitative", "axis": null}, "y2": {"datum": 9}}},
    {"data": {"name": "dash2"}, "mark": {"type": "rule", "color": "black", "strokeWidth": 1, "strokeDash": [3, 2]}, "encoding": {"y": {"field": "y", "type": "quantitative", "axis": null}, "y2": {"field": "y2"}}},
    {"data": {"name": "lab2"}, "transform": [{"filter": "datum.k == 'fp'"}], "mark": {"type": "text", "font": "Liberation Serif", "fontSize": 19, "angle": 270, "align": "center", "baseline": "middle", "color": "black"}, "encoding": {"y": {"field": "y", "type": "quantitative", "axis": null}, "text": {"field": "t"}}},
    {"data": {"name": "lab2"}, "transform": [{"filter": "datum.k == 'sm'"}], "mark": {"type": "text", "font": "Liberation Serif", "fontSize": 14, "angle": 270, "align": "center", "baseline": "middle", "color": "black"}, "encoding": {"y": {"field": "y", "type": "quantitative", "axis": null}, "text": {"field": "t"}}},
    {"data": {"name": "lab2"}, "transform": [{"filter": "datum.k == 'si'"}], "mark": {"type": "text", "font": "Liberation Serif", "fontSize": 15, "angle": 270, "align": "center", "baseline": "middle", "color": "black"}, "encoding": {"y": {"field": "y", "type": "quantitative", "axis": null}, "text": {"field": "t"}}},
    {"data": {"name": "lab2"}, "transform": [{"filter": "datum.k == 'id'"}], "mark": {"type": "text", "font": "Liberation Sans", "fontSize": 19, "fontWeight": "bold", "align": "center", "baseline": "middle", "color": "black"}, "encoding": {"y": {"field": "y", "type": "quantitative", "axis": null}, "text": {"field": "t"}}}
  ]
}
]
}
